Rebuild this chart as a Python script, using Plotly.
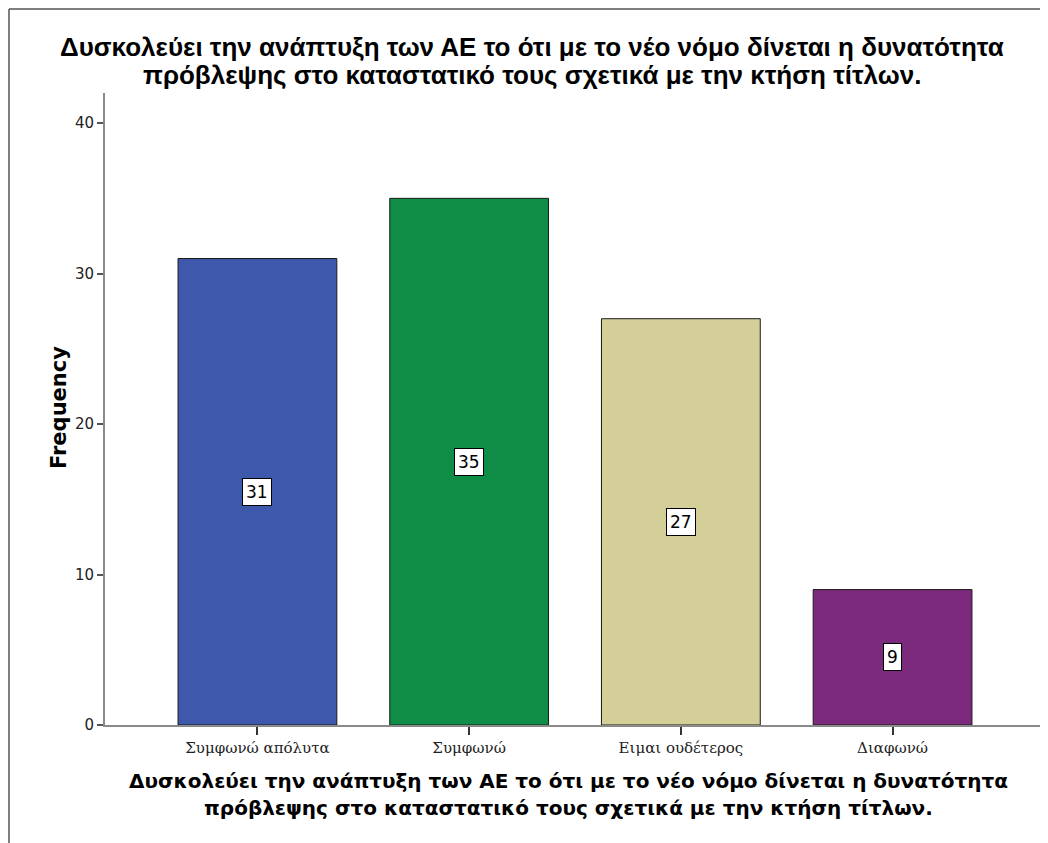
import plotly.graph_objects as go

categories = ['Συμφωνώ απόλυτα', 'Συμφωνώ', 'Ειμαι ουδέτερος', 'Διαφωνώ']
frequency = [31, 35, 27, 9]
bar_colors = ['#3E58AB', '#0F8C46', '#D4CF98', '#7C2A7C']

title_lines = ['Δυσκολεύει την ανάπτυξη των ΑΕ το ότι με το νέο νόμο δίνεται η δυνατότητα',
               'πρόβλεψης στο καταστατικό τους σχετικά με την κτήση τίτλων.']

W, H = 1048, 843
OFF = 8  # page body margin in the browser
# plot area in window pixels: x 105..1045, y 93..725
L, R, T, B = 105 - OFF, W - (1045 - OFF), 93 - OFF, H - (725 - OFF)
pw, ph = W - L - R, H - T - B


def px_x(x):
    return (x - OFF - L) / pw


def px_y(y):
    return (H - B - (y - OFF)) / ph


fig = go.Figure()
fig.add_trace(go.Bar(
    x=list(range(len(categories))), y=frequency,
    marker=dict(color=bar_colors, line=dict(color='#1a1a1a', width=1)),
    width=0.75, showlegend=False, hoverinfo='y'
))

# value boxes in the middle of each bar
for i, v in enumerate(frequency):
    fig.add_annotation(x=i, y=v / 2, text=str(v), showarrow=False,
                       font=dict(family='DejaVu Sans', size=17, color='black'),
                       bgcolor='white', bordercolor='black', borderwidth=1, borderpad=3)

# chart title (top), one annotation per line
for line, yy in zip(title_lines, [47, 75]):
    fig.add_annotation(x=px_x(532), y=px_y(yy), xref='paper', yref='paper',
                       text=line, showarrow=False, yanchor='middle', xanchor='center',
                       font=dict(family='Liberation Sans Narrow, Liberation Sans', size=26,
                                 color='black', weight='bold'))

# x axis title (bottom)
for line, yy in zip(title_lines, [781, 808]):
    fig.add_annotation(x=px_x(568), y=px_y(yy), xref='paper', yref='paper',
                       text=line, showarrow=False, yanchor='middle', xanchor='center',
                       font=dict(family='DejaVu Sans', size=20, color='black', weight='bold'))

# y axis title
fig.add_annotation(x=px_x(45), y=px_y(408), xref='paper', yref='paper',
                   text='Frequency', showarrow=False, textangle=-90,
                   font=dict(family='DejaVu Sans', size=21, color='black', weight='bold'))

# page frame (left & top edges)
fig.add_shape(type='line', xref='paper', yref='paper',
              x0=px_x(9), x1=px_x(9), y0=px_y(9), y1=px_y(860),
              line=dict(color='#555555', width=1.5))
fig.add_shape(type='line', xref='paper', yref='paper',
              x0=px_x(9), x1=px_x(1070), y0=px_y(9), y1=px_y(9),
              line=dict(color='#555555', width=1.5))

fig.update_layout(
    width=W, height=H,
    margin=dict(l=L, r=R, t=T, b=B),
    paper_bgcolor='white', plot_bgcolor='white',
    xaxis=dict(range=[-0.72, 3.72], tickmode='array',
               tickvals=list(range(len(categories))), ticktext=categories,
               showline=True, linecolor='#8a8a8a', linewidth=2,
               ticks='outside', ticklen=8, tickcolor='#333333', tickwidth=1.5,
               showgrid=False, zeroline=False,
               tickfont=dict(family='DejaVu Serif', size=15, color='#222222')),
    yaxis=dict(range=[0, 42], tickvals=[0, 10, 20, 30, 40],
               showline=True, linecolor='#8a8a8a', linewidth=2,
               ticks='outside', ticklen=6, tickcolor='#555555', tickwidth=1.5,
               showgrid=False, zeroline=False,
               tickfont=dict(family='DejaVu Sans', size=15, color='#222222')),
)

fig.write_html('out.html')
